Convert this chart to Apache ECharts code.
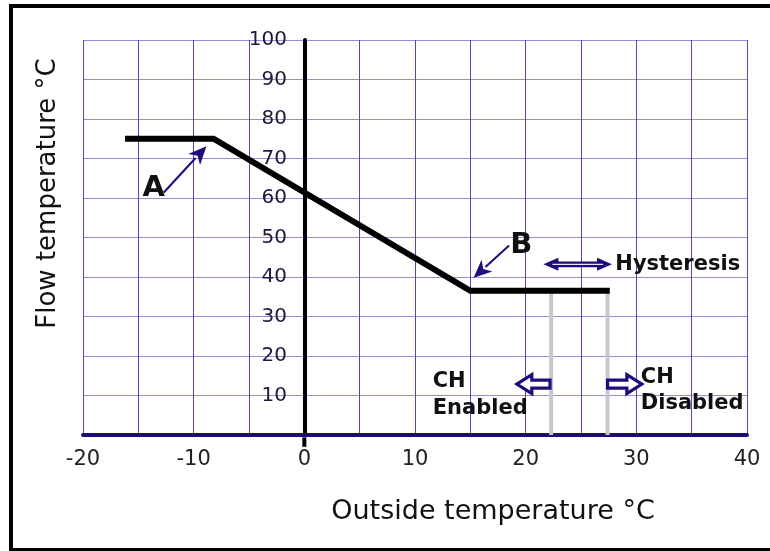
<!DOCTYPE html>
<html>
<head>
<meta charset="utf-8">
<script src="https://cdn.jsdelivr.net/npm/echarts@6/dist/echarts.min.js"></script>
<style>html,body{margin:0;padding:0;background:#fff}#c{width:770px;height:551px}</style>
</head>
<body>
<div id="c"></div>
<script>
// ---- data ----
const xLabelValues = [-20, -10, 0, 10, 20, 30, 40];
const yLabelValues = [10, 20, 30, 40, 50, 60, 70, 80, 90, 100];
const curveX = [-16.2, -8.2, 15.0, 27.6];
const curveY = [75.0, 75.0, 36.5, 36.5];
const switchX = [22.3, 27.4];      // CH enabled / disabled thresholds
const switchTopY = [36.5, 36.5];
const pointerFrom = [[-12.7, 61.4], [18.5, 48.0]];
const pointerTo = [[-8.85, 73.1], [15.3, 39.8]];
const hystArrow = [[21.6, 27.8, 43.2]];          // x1, x2, y
const blockArrows = [[22.2, 19.2, 12.9], [27.4, 30.5, 12.9]]; // tail x, tip x, y
const noteTexts = ['A', 'B', 'Hysteresis', 'CH', 'Enabled', 'CH', 'Disabled'];
const noteX = [-13.6, 19.6, 28.1, 11.6, 11.6, 30.4, 30.4];
const noteY = [62.5, 48.0, 43.2, 13.6, 6.7, 14.6, 8.0];
const noteSize = [29, 29, 21, 21, 21, 21, 21];
const noteAlign = ['center', 'center', 'left', 'left', 'left', 'left', 'left'];

const NAVY = '#1c0c7c';
const FONT = '"DejaVu Sans", "Liberation Sans", Arial, sans-serif';

const chart = echarts.init(document.getElementById('c'), null, {renderer: 'canvas'});

const series = [];
// CH switch lines (grey)
switchX.forEach((x, i) => {
  series.push({
    type: 'line', symbol: 'none', silent: true, z: 2,
    data: [[x, 0], [x, switchTopY[i]]],
    lineStyle: {color: '#c8c8c8', width: 4, cap: 'butt'}
  });
});
// heating curve
series.push({
  type: 'line', symbol: 'none', silent: true, z: 3,
  data: curveX.map((x, i) => [x, curveY[i]]),
  lineStyle: {color: '#000', width: 6, cap: 'butt', join: 'miter'}
});
// small extension of y axis below x axis
series.push({
  type: 'line', symbol: 'none', silent: true, clip: false, z: 1,
  data: [[0, -0.6], [0, -3]],
  lineStyle: {color: '#000', width: 4, cap: 'butt'}
});
// pointer arrows (A, B)
series.push({
  type: 'custom', silent: true, z: 5, clip: false,
  data: pointerFrom.map((p, i) => [p[0], p[1], pointerTo[i][0], pointerTo[i][1]]),
  renderItem: function (params, api) {
    const p1 = api.coord([api.value(0), api.value(1)]);
    const p2 = api.coord([api.value(2), api.value(3)]);
    const dx = p2[0] - p1[0], dy = p2[1] - p1[1];
    const len = Math.sqrt(dx * dx + dy * dy);
    const ux = dx / len, uy = dy / len;
    const hl = 18, hw = 8;
    const bx = p2[0] - ux * hl, by = p2[1] - uy * hl;
    return {
      type: 'group', children: [
        {type: 'line', shape: {x1: p1[0], y1: p1[1], x2: bx + ux * 2, y2: by + uy * 2},
          style: {stroke: NAVY, lineWidth: 2}},
        {type: 'polygon', shape: {points: [[p2[0], p2[1]], [bx - uy * hw, by + ux * hw], [bx + ux * 5, by + uy * 5], [bx + uy * hw, by - ux * hw]]},
          style: {fill: NAVY}}
      ]
    };
  }
});
// hysteresis double arrow
series.push({
  type: 'custom', silent: true, z: 5, clip: false,
  data: hystArrow,
  renderItem: function (params, api) {
    const a = api.coord([api.value(0), api.value(2)]);
    const b = api.coord([api.value(1), api.value(2)]);
    const y = a[1], x1 = a[0], x2 = b[0];
    const hl = 15, hh = 6.5, sh = 2.8;
    return {
      type: 'group', children: [
        {type: 'polygon', shape: {points: [[x1, y], [x1 + hl, y - hh], [x1 + hl, y - sh], [x2 - hl, y - sh], [x2 - hl, y - hh], [x2, y], [x2 - hl, y + hh], [x2 - hl, y + sh], [x1 + hl, y + sh], [x1 + hl, y + hh]]},
          style: {fill: NAVY}},
        {type: 'line', shape: {x1: x1 + hl - 6, y1: y, x2: x2 - hl + 6, y2: y},
          style: {stroke: '#e8e4ff', lineWidth: 1.2}}
      ]
    };
  }
});
// block (hollow) arrows
series.push({
  type: 'custom', silent: true, z: 5, clip: false,
  data: blockArrows,
  renderItem: function (params, api) {
    const t = api.coord([api.value(0), api.value(2)]);
    const p = api.coord([api.value(1), api.value(2)]);
    const y = t[1], xt = t[0], xp = p[0];
    const dir = xp > xt ? 1 : -1;
    const hl = 15, hh = 9.5, sh = 4;
    const xb = xp - dir * hl;
    return {
      type: 'polygon',
      shape: {points: [[xp, y], [xb, y - hh], [xb, y - sh], [xt, y - sh], [xt, y + sh], [xb, y + sh], [xb, y + hh]]},
      style: {fill: '#fff', stroke: NAVY, lineWidth: 3.2, lineJoin: 'miter'}
    };
  }
});
// text notes
series.push({
  type: 'custom', silent: true, z: 6, clip: false,
  data: noteX.map((x, i) => [x, noteY[i]]),
  renderItem: function (params, api) {
    const i = params.dataIndex;
    const p = api.coord([api.value(0), api.value(1)]);
    return {
      type: 'text', x: p[0], y: p[1],
      style: {text: noteTexts[i], font: 'bold ' + noteSize[i] + 'px ' + FONT, fill: '#111', align: noteAlign[i], verticalAlign: 'middle'}
    };
  }
});

chart.setOption({
  backgroundColor: '#fff',
  animation: false,
  grid: {left: 83, right: 23, top: 40, bottom: 116, containLabel: false, outerBoundsMode: 'none'},
  xAxis: {
    type: 'value', min: -20, max: 40, interval: 5,
    axisLine: {onZero: false, lineStyle: {color: NAVY, width: 4}},
    axisTick: {show: false},
    axisLabel: {
      formatter: v => xLabelValues.includes(v) ? String(v) : '',
      fontSize: 21, fontFamily: FONT, color: '#222', margin: 14
    },
    splitLine: {show: true, lineStyle: {color: '#5a42c8', width: 1}},
    name: 'Outside temperature °C', nameLocation: 'middle', nameGap: 63,
    nameTextStyle: {fontSize: 27, fontFamily: FONT, color: '#111', padding: [0, 0, 0, 156]}
  },
  yAxis: {
    type: 'value', min: 0, max: 100, interval: 10,
    axisLine: {show: true, onZero: true, lineStyle: {color: '#000', width: 4}},
    axisTick: {show: false},
    axisLabel: {
      formatter: v => yLabelValues.includes(v) ? String(v) : '',
      fontSize: 20, fontFamily: FONT, color: '#1a1a3c', margin: -204
    },
    splitLine: {show: true, lineStyle: {color: '#9c8cd8', width: 1}},
    name: 'Flow temperature °C', nameLocation: 'middle', nameGap: 22,
    nameTextStyle: {fontSize: 26, fontFamily: FONT, color: '#111', padding: [0, 0, 0, 88]}
  },
  graphic: [{
    type: 'rect', silent: true, z: 100,
    shape: {x: 11, y: 6, width: 800, height: 544},
    style: {fill: 'none', stroke: '#000', lineWidth: 4}
  }],
  series: series
});
</script>
</body>
</html>
